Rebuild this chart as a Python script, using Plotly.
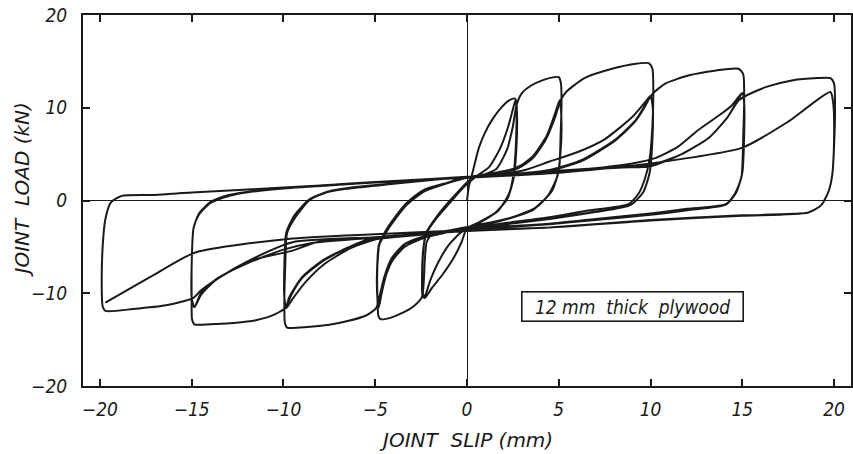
import plotly.graph_objects as go

# Load-slip history of a nailed plywood joint under reversed cyclic loading.
# Each amplitude level lists the traced path (slip in mm, load in kN) in the order it was run.

slip_a25 = [0.0, 0.1, 0.3, 0.65, 1.0, 1.4, 1.9, 2.3, 2.6,
            2.7, 2.7, 2.65, 2.55, 2.3, 1.7, 0.7, 0.0,
            -0.3, -0.7, -1.3, -1.9, -2.3,
            -2.42, -2.45, -2.38, -2.2, -1.7, -1.0, -0.2, 0.5,
            1.2, 1.8, 2.25, 2.55, 2.65,
            2.72, 2.7, 2.55, 2.2, 1.5, 0.5, -0.3,
            -1.0, -1.6, -2.0, -2.3,
            -2.42, -2.42, -2.25, -1.6, -0.6, 0.2]
load_a25 = [0.0, 1.5, 3.0, 5.7, 7.4, 8.8, 10.1, 10.8, 11.0,
            10.6, 8.5, 5.5, 3.0, 0.8, -1.1, -2.3, -3.0,
            -4.5, -6.1, -7.9, -9.4, -10.5,
            -10.3, -8.3, -5.2, -3.5, -2.0, -0.4, 1.4, 2.6,
            3.6, 5.6, 8.0, 10.2, 10.8,
            9.5, 6.0, 2.5, 0.2, -1.4, -2.6, -3.4,
            -4.8, -6.8, -8.6, -10.3,
            -10.0, -6.5, -3.6, -1.6, 0.7, 2.3]

slip_a5 = [0.8, 1.6, 2.2, 2.5, 2.7, 3.0, 3.5, 4.1, 4.6, 5.0,
           5.12, 5.15, 5.1, 5.02, 4.65, 3.8, 2.5, 0.7, -0.9, -1.9,
           -2.2, -2.3, -2.35, -2.45, -2.9, -3.5, -4.1, -4.7,
           -4.82, -4.88, -4.88, -4.75, -4.25, -3.3, -2.4, -1.1, 0.0, 1.3, 2.5,
           3.4, 4.2, 4.7, 5.0, 5.1,
           5.14, 5.1, 4.95, 4.5, 3.6, 2.3, 0.6, -1.0, -2.2,
           -3.3, -4.0, -4.4, -4.65, -4.8,
           -4.88, -4.9, -4.78, -4.3, -3.3, -2.3, -1.0, 0.0, 1.4, 2.7,
           3.6, 4.35, 4.8, 5.05,
           5.14, 5.1, 4.9, 4.4, 3.5, 2.2, 0.5, -1.0, -2.3,
           -3.4, -4.1, -4.5, -4.7, -4.8,
           -4.88, -4.9, -4.8, -4.35, -3.4, -2.3, -1.0, 0.0]
load_a5 = [2.7, 3.4, 5.6, 8.0, 10.3, 11.6, 12.4, 12.95, 13.25, 13.3,
           12.6, 10.5, 7.0, 3.5, 1.1, -0.7, -1.8, -2.6, -3.2, -3.6,
           -4.5, -6.5, -8.6, -10.4, -11.4, -12.1, -12.6, -12.8,
           -12.5, -10.5, -7.0, -4.5, -2.9, -0.3, 1.1, 1.9, 2.5, 2.9, 3.4,
           4.3, 6.3, 8.8, 10.4, 10.9,
           9.0, 5.5, 2.8, 0.7, -1.0, -1.9, -2.7, -3.3, -3.9,
           -4.6, -6.0, -8.0, -10.0, -11.5,
           -10.5, -7.5, -4.8, -3.1, -0.5, 1.0, 1.9, 2.45, 2.85, 3.5,
           4.8, 7.0, 9.4, 10.8,
           9.0, 5.3, 2.5, 0.5, -1.1, -2.0, -2.8, -3.4, -4.0,
           -5.0, -6.6, -8.6, -10.3, -11.5,
           -10.5, -7.5, -4.8, -3.0, -0.5, 1.05, 1.95, 2.5]

slip_a10 = [1.5, 2.8, 3.6, 4.3, 4.8, 5.1, 5.4, 6.4, 7.9, 9.2, 9.9,
            10.1, 10.15, 10.1, 9.95, 9.7, 9.35, 8.8, 6.5, 4.5, 2.2, 0.0, -1.2, -2.4,
            -3.4, -4.1, -4.5, -4.75, -4.95, -5.5, -6.5, -7.5, -8.7, -9.8,
            -9.92, -9.95, -9.9, -9.8, -9.35, -8.6, -7.7, -6.4, -4.0, -1.5, 0.0, 2.5, 4.5,
            6.3, 8.1, 9.2, 9.8, 10.0,
            10.12, 10.1, 9.95, 9.6, 8.9, 7.0, 4.5, 2.0, 0.0, -2.5, -5.0,
            -6.4, -7.9, -9.0, -9.7, -9.85,
            -9.95, -9.95, -9.85, -9.4, -8.6, -7.6, -6.3, -4.0, -1.5, 0.0, 3.0,
            4.5, 6.0, 7.5, 9.0, 9.7, 10.0,
            10.12, 10.1, 9.95, 9.6, 8.9, 7.0, 4.5, 2.0, 0.0, -2.5, -5.0,
            -6.5, -7.8, -8.8, -9.5, -9.85,
            -9.95, -9.95, -9.85, -9.4, -8.6, -7.6, -6.3, -4.0, -1.5, 0.0]
load_a10 = [2.9, 3.5, 4.6, 6.6, 9.0, 10.8, 11.7, 13.2, 14.2, 14.75, 14.8,
            14.2, 12.0, 8.0, 4.5, 2.4, 0.75, -0.4, -1.1, -1.8, -2.4, -3.0, -3.4, -3.9,
            -4.7, -6.2, -8.2, -10.2, -11.6, -12.4, -13.0, -13.4, -13.65, -13.7,
            -13.2, -11.0, -7.0, -3.5, -1.8, 0.0, 0.9, 1.3, 1.8, 2.3, 2.5, 2.8, 3.2,
            4.3, 6.5, 8.6, 10.5, 11.3,
            10.0, 6.5, 3.0, 0.9, -0.5, -1.2, -1.9, -2.5, -3.0, -3.6, -4.1,
            -5.0, -6.5, -8.3, -10.5, -11.6,
            -10.5, -7.0, -3.5, -1.6, 0.05, 0.9, 1.35, 1.8, 2.3, 2.5, 3.2,
            4.2, 5.2, 6.6, 9.0, 10.6, 11.3,
            10.0, 6.5, 3.0, 0.9, -0.5, -1.25, -2.0, -2.6, -3.1, -3.7, -4.2,
            -5.3, -6.9, -8.8, -10.6, -11.6,
            -10.5, -7.0, -3.5, -1.6, 0.1, 0.95, 1.4, 1.85, 2.3, 2.5]

slip_a15 = [2.5, 4.5, 6.3, 8.1, 9.2, 9.8, 10.1, 10.8, 12.1, 13.5, 14.8,
            15.05, 15.1, 15.05, 14.95, 14.6, 14.1, 12.0, 10.0, 7.0, 4.5, 2.0, 0.0, -2.5, -5.0,
            -6.4, -7.9, -9.0, -9.6, -9.85, -10.5, -11.5, -12.7, -14.0, -14.85,
            -14.98, -15.0, -15.0, -14.9, -14.6, -14.0, -13.3, -12.4, -10.0, -7.0, -4.0, 0.0, 3.0, 6.0, 8.5,
            10.0, 11.7, 13.2, 14.2, 14.8, 15.0,
            15.1, 15.1, 15.0, 14.65, 14.1, 12.0, 10.0, 7.0, 4.5, 2.0, 0.0, -3.0, -6.0, -8.2,
            -9.5, -11.8, -13.7, -14.5, -14.85,
            -15.0, -15.0, -14.9, -14.6, -14.0, -13.3, -12.4, -10.0, -7.0, -4.0, 0.0, 3.0, 6.0, 9.0,
            10.3, 11.5, 12.6, 13.6, 14.4, 15.0,
            15.1, 15.1, 15.0, 14.65, 14.1, 12.0, 10.0, 7.0, 4.5, 2.0, 0.0, -3.0, -6.0, -8.5,
            -10.0, -12.0, -13.6, -14.5, -14.85,
            -15.0, -15.0, -14.9, -14.6, -14.0, -13.3, -12.4, -10.0, -7.0, -4.0, 0.0]
load_a15 = [2.85, 3.3, 4.4, 6.6, 8.7, 10.6, 11.5, 12.6, 13.5, 14.0, 14.2,
            13.6, 11.0, 7.0, 2.5, 0.75, -0.4, -0.9, -1.4, -2.0, -2.5, -2.8, -3.1, -3.6, -4.0,
            -5.0, -6.6, -8.4, -10.3, -11.5, -12.3, -12.9, -13.2, -13.35, -13.35,
            -12.8, -10.5, -7.0, -3.0, -1.5, -0.3, 0.3, 0.75, 1.3, 1.7, 2.05, 2.5, 2.9, 3.3, 3.55,
            3.7, 5.0, 6.8, 9.0, 11.0, 11.6,
            10.5, 7.0, 3.0, 0.8, -0.4, -1.0, -1.5, -2.05, -2.5, -2.85, -3.15, -3.7, -4.1, -4.5,
            -5.4, -6.5, -8.6, -10.2, -11.5,
            -10.5, -7.0, -3.0, -1.4, -0.25, 0.35, 0.8, 1.3, 1.7, 2.05, 2.5, 2.9, 3.3, 4.0,
            4.6, 5.8, 7.6, 9.0, 10.2, 11.6,
            10.5, 7.0, 3.0, 0.8, -0.45, -1.05, -1.55, -2.1, -2.55, -2.9, -3.2, -3.75, -4.15, -4.6,
            -5.3, -6.8, -8.4, -10.0, -11.5,
            -10.5, -7.0, -3.0, -1.4, -0.2, 0.4, 0.8, 1.35, 1.75, 2.1, 2.55]

slip_a20 = [3.0, 6.0, 9.0, 10.0, 11.7, 13.2, 14.2, 14.8, 15.3, 16.4, 17.7, 19.1, 19.8,
            20.0, 20.05, 20.0, 19.9, 19.7, 19.3, 18.6, 15.0, 10.0, 4.5, 0.0, -5.0, -9.5,
            -11.8, -13.5, -14.5, -14.9, -16.4, -18.2, -19.7,
            -19.85, -19.9, -19.85, -19.7, -19.4, -18.8, -17.0, -15.0, -10.0, -5.0, 0.0, 5.0, 10.0, 15.0, 17.5, 19.8,
            19.95, 20.0, 19.9, 19.7, 19.3, 18.6, 15.0, 10.0, 4.5, 0.0, -4.1, -9.5, -14.8, -17.3, -19.7]
load_a20 = [2.95, 3.35, 3.7, 3.8, 5.0, 6.8, 9.0, 10.8, 11.4, 12.3, 12.95, 13.2, 13.2,
            12.6, 10.0, 6.0, 2.8, 1.0, -0.5, -1.3, -1.6, -2.1, -2.9, -3.3, -3.95, -4.5,
            -6.4, -8.3, -9.7, -10.5, -11.3, -11.7, -11.9,
            -11.4, -9.0, -5.0, -2.0, -0.2, 0.5, 0.6, 0.85, 1.4, 1.95, 2.45, 3.0, 4.0, 5.7, 8.5, 11.7,
            10.5, 7.0, 2.8, 1.0, -0.5, -1.3, -1.65, -2.15, -2.9, -3.2, -3.55, -4.1, -5.6, -8.3, -11.0]

slip = slip_a25 + slip_a5 + slip_a10 + slip_a15 + slip_a20
load = load_a25 + load_a5 + load_a10 + load_a15 + load_a20

x_ticks = [-20, -15, -10, -5, 0, 5, 10, 15, 20]
x_labels = ["\u221220", "\u221215", "\u221210", "\u22125", "0", "5", "10", "15", "20"]
y_ticks = [-20, -10, 0, 10, 20]
y_labels = ["\u221220", "\u221210", "0", "10", "20"]

INK = "#1a1a1a"
FONT = "DejaVu Sans Condensed, Liberation Sans Narrow, DejaVu Sans, sans-serif"
TITLE_FONT = "DejaVu Sans, sans-serif"

fig = go.Figure()
fig.add_trace(go.Scatter(
    x=slip, y=load, mode="lines",
    line=dict(color=INK, width=2, shape="spline", smoothing=0.6),
    hoverinfo="skip", showlegend=False,
))

axis_common = dict(
    showgrid=False, showline=True, linecolor=INK, linewidth=2,
    mirror="ticks", ticks="inside", ticklen=7, tickwidth=1.5, tickcolor=INK,
    zeroline=True, zerolinecolor=INK, zerolinewidth=1.4,
    tickfont=dict(family=FONT, size=19, color=INK, style="italic"),
)

fig.update_layout(
    width=853, height=454,
    margin=dict(l=83, r=0, t=15, b=68),
    paper_bgcolor="white", plot_bgcolor="white",
    xaxis=dict(range=[-20.92, 20.92], tickvals=x_ticks, ticktext=x_labels,
               ticklabelstandoff=5, **axis_common),
    yaxis=dict(range=[-20, 20], tickvals=y_ticks, ticktext=y_labels,
               ticklabelstandoff=10, **axis_common),
    annotations=[
        dict(text="JOINT  SLIP (mm)", xref="paper", yref="paper",
             x=0.4987, y=-0.1456, xanchor="center", yanchor="middle", showarrow=False,
             font=dict(family=TITLE_FONT, size=20, color=INK, style="italic")),
        dict(text="JOINT  LOAD (kN)", xref="paper", yref="paper",
             x=-0.079, y=0.528, xanchor="center", yanchor="middle", showarrow=False,
             textangle=-90,
             font=dict(family=TITLE_FONT, size=20, color=INK, style="italic")),
        dict(text="12 mm  thick  plywood", xref="x", yref="y",
             x=9.0, y=-11.4, xanchor="center", yanchor="middle", showarrow=False,
             width=218, height=26, borderpad=1, bordercolor=INK, borderwidth=1.6,
             bgcolor="white",
             font=dict(family=FONT, size=19, color=INK, style="italic")),
    ],
)

fig.write_html("out.html")
